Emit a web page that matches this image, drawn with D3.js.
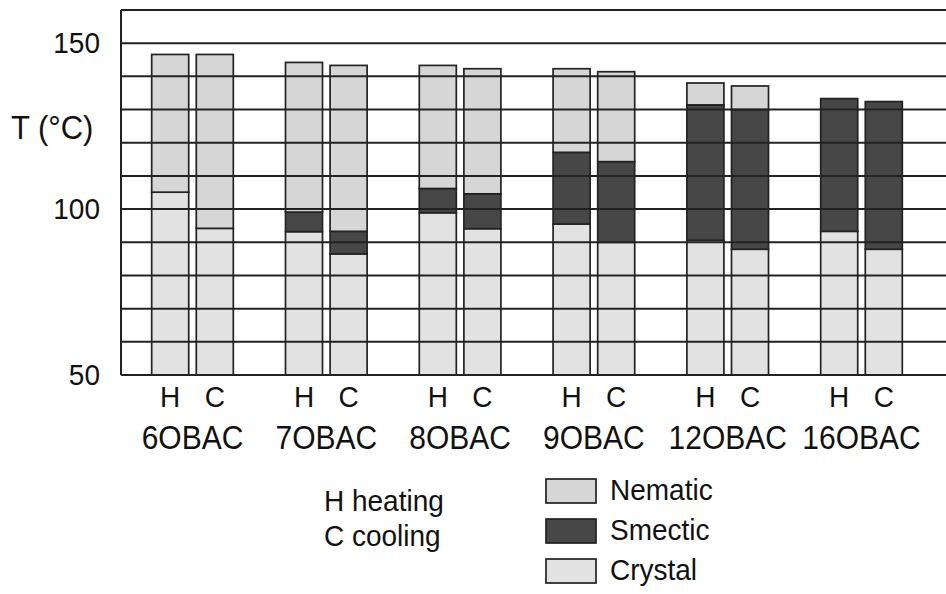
<!DOCTYPE html>
<html>
<head>
<meta charset="utf-8">
<script src="https://cdn.jsdelivr.net/npm/d3@7"></script>
<style>
  html, body { margin: 0; padding: 0; background: #fff; }
  svg { display: block; font-family: "Liberation Sans", Arial, sans-serif; }
</style>
</head>
<body>
<svg id="chart" width="946" height="594"></svg>
<script>
// ---------- data ----------
const groups = ["6OBAC", "7OBAC", "8OBAC", "9OBAC", "12OBAC", "16OBAC"];
const modes = ["H", "C"];
// transition temperatures (°C), [H, C] for each compound
const crystalTop = [[105.1, 94.2], [93.2, 86.5], [98.9, 94.1], [95.5, 90.0], [90.6, 87.9], [93.3, 87.9]];
const smecticTop = [[105.1, 94.2], [99.1, 93.3], [106.2, 104.6], [117.1, 114.3], [131.4, 130.0], [133.3, 132.4]];
const nematicTop = [[146.6, 146.6], [144.2, 143.3], [143.3, 142.3], [142.3, 141.4], [138.0, 137.1], [133.3, 132.4]];
const phases = ["Nematic", "Smectic", "Crystal"];
const yTickLabels = [150, 100, 50];
const yGrid = [60, 70, 80, 90, 100, 110, 120, 130, 140, 150, 160];
const legendNotes = ["H heating", "C cooling"];

// ---------- layout ----------
const svg = d3.select("#chart");
const plotL = 121, plotT = 10, plotB = 375, plotR = 960;
const colors = { Nematic: "#d6d6d6", Smectic: "#474747", Crystal: "#e2e2e2" };
const lineCol = "#222";
const txtCol = "#111";
const sy = 1.08; // slight vertical stretch of the text, as in the reference

const y = d3.scaleLinear().domain([50, 160]).range([plotB, plotT]);
const x0 = d3.scaleBand().domain(groups).range([125.6, 928.4]).paddingInner(0.39).paddingOuter(0.195);
const x1 = d3.scaleBand().domain(modes).range([0, x0.bandwidth()]).paddingInner(0.17);

const place = (fx, fy) => (d, i) => `translate(${fx(d, i)},${fy(d, i)}) scale(1,${sy})`;

// build segments
const segs = [];
groups.forEach((g, gi) => {
  modes.forEach((m, mi) => {
    const base = 50;
    const c = crystalTop[gi][mi], s = smecticTop[gi][mi], n = nematicTop[gi][mi];
    segs.push({ g, m, phase: "Crystal", y0: base, y1: c });
    if (s > c) segs.push({ g, m, phase: "Smectic", y0: c, y1: s });
    if (n > s) segs.push({ g, m, phase: "Nematic", y0: s, y1: n });
  });
});

// bars
svg.append("g").selectAll("rect").data(segs).join("rect")
  .attr("x", d => x0(d.g) + x1(d.m))
  .attr("width", x1.bandwidth())
  .attr("y", d => y(d.y1))
  .attr("height", d => y(d.y0) - y(d.y1))
  .attr("fill", d => colors[d.phase])
  .attr("stroke", lineCol)
  .attr("stroke-width", 1.7);

// gridlines (drawn over bars, as in the reference)
svg.append("g").selectAll("line").data(yGrid).join("line")
  .attr("x1", plotL).attr("x2", plotR)
  .attr("y1", d => y(d)).attr("y2", d => y(d))
  .attr("stroke", lineCol).attr("stroke-width", 2);

// axes frame
svg.append("line").attr("x1", plotL).attr("x2", plotL).attr("y1", y(160)).attr("y2", y(50))
  .attr("stroke", lineCol).attr("stroke-width", 2);
svg.append("line").attr("x1", plotL).attr("x2", plotR).attr("y1", y(50)).attr("y2", y(50))
  .attr("stroke", lineCol).attr("stroke-width", 2);

// y tick labels
svg.append("g").selectAll("text").data(yTickLabels).join("text")
  .attr("transform", place(() => 100, d => y(d) + 10))
  .attr("text-anchor", "end")
  .attr("font-size", 28)
  .attr("fill", txtCol)
  .text(d => d);

// y axis title
svg.append("text").attr("transform", `translate(11,139) scale(1,${sy})`)
  .attr("font-size", 31).attr("fill", txtCol).text("T (°C)");

// H / C labels
const hc = [];
groups.forEach(g => modes.forEach(m => hc.push({ g, m })));
svg.append("g").selectAll("text").data(hc).join("text")
  .attr("transform", place(d => x0(d.g) + x1(d.m) + x1.bandwidth() / 2, () => 407))
  .attr("text-anchor", "middle")
  .attr("font-size", 28).attr("fill", txtCol)
  .text(d => d.m);

// compound labels
svg.append("g").selectAll("text").data(groups).join("text")
  .attr("transform", place(d => x0(d) + x0.bandwidth() / 2, () => 449))
  .attr("text-anchor", "middle")
  .attr("font-size", 30).attr("fill", txtCol)
  .text(d => d);

// notes
svg.append("g").selectAll("text").data(legendNotes).join("text")
  .attr("transform", place(() => 324, (d, i) => 511 + i * 35))
  .attr("font-size", 28).attr("fill", txtCol)
  .text(d => d);

// legend
const lg = svg.append("g").selectAll("g").data(phases).join("g")
  .attr("transform", (d, i) => `translate(546, ${479 + i * 40})`);
lg.append("rect").attr("width", 50).attr("height", 24)
  .attr("fill", d => colors[d]).attr("stroke", lineCol).attr("stroke-width", 1.7);
lg.append("text").attr("transform", `translate(64,21) scale(1,${sy})`)
  .attr("font-size", 28).attr("fill", txtCol).text(d => d);
</script>
</body>
</html>
